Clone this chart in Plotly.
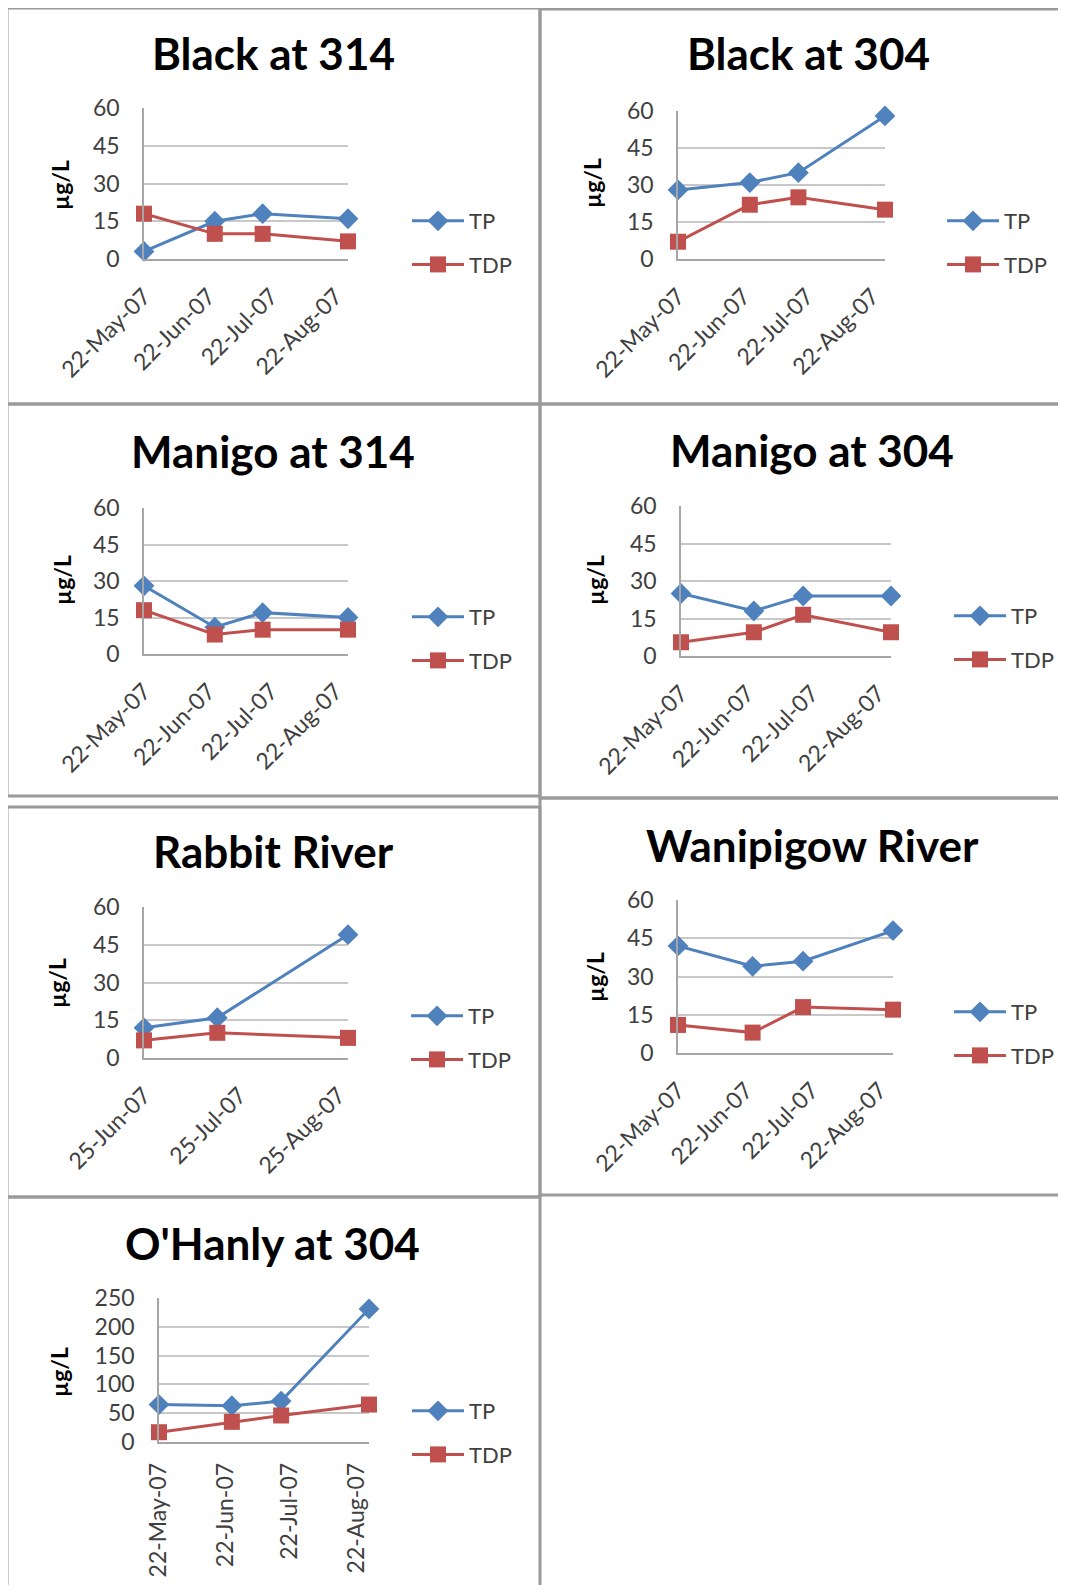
import plotly.graph_objects as go

# page body has an 8px margin; figure is sized so that it fits the 1066x1593 window
OFF = 8
W, H = 1066 - 2 * OFF, 1593 - 2 * OFF

# ---------------- data ----------------
titles = ["Black at 314", "Black at 304", "Manigo at 314", "Manigo at 304",
          "Rabbit River", "Wanipigow River", "O'Hanly at 304"]
dates_main = ["2007-05-22", "2007-06-25", "2007-07-18", "2007-08-28"]
dates_rabbit = ["2007-06-25", "2007-07-18", "2007-08-28"]

tp_black314 = [3, 15, 18, 16]
tdp_black314 = [18, 10, 10, 7]
tp_black304 = [28, 31, 35, 58]
tdp_black304 = [7, 22, 25, 20]
tp_manigo314 = [28, 11, 17, 15]
tdp_manigo314 = [18, 8, 10, 10]
tp_manigo304 = [25, 18, 24, 24]
tdp_manigo304 = [5.5, 9.5, 16.5, 9.5]
tp_rabbit = [12, 16, 49]
tdp_rabbit = [7, 10, 8]
tp_wanipigow = [42, 34, 36, 48]
tdp_wanipigow = [11, 8, 18, 17]
tp_ohanly = [65, 63, 71, 231]
tdp_ohanly = [17, 35, 46, 65]

yticks_small = [0, 15, 30, 45, 60]
yticks_ohanly = [0, 50, 100, 150, 200, 250]
series_names = ["TP", "TDP"]
y_label = "µg/L"

panels = [
    (dates_main, tp_black314, tdp_black314, yticks_small),
    (dates_main, tp_black304, tdp_black304, yticks_small),
    (dates_main, tp_manigo314, tdp_manigo314, yticks_small),
    (dates_main, tp_manigo304, tdp_manigo304, yticks_small),
    (dates_rabbit, tp_rabbit, tdp_rabbit, yticks_small),
    (dates_main, tp_wanipigow, tdp_wanipigow, yticks_small),
    (dates_main, tp_ohanly, tdp_ohanly, yticks_ohanly),
]

# ---------------- geometry (window pixels) ----------------
plot_boxes = [  # left, top, right, bottom
    (144, 108, 348, 259),
    (678, 111, 885, 259),
    (144, 508, 348, 654),
    (681, 506, 891, 656),
    (144, 907, 348, 1058),
    (678, 900, 893, 1053),
    (159, 1298, 369, 1442),
]
title_pos = [(273, 53), (808, 53), (273, 451), (812, 450), (273, 851), (812, 845), (272, 1243)]
ylab_pos = [(60, 185), (592, 183), (62, 580), (595, 580), (57, 983), (595, 977), (59, 1372)]
legend_pos = [(407, 222), (942, 222), (407, 618), (949, 617), (406, 1017), (949, 1013), (407, 1412)]
frames = [
    (7, 8, 540, 404), (540, 9, 1080, 404),
    (7, 404, 540, 796), (540, 404, 1080, 798),
    (7, 807, 540, 1197), (540, 798, 1080, 1195),
    (7, 1197, 540, 1610),
]

BLUE = "#4F81BD"
RED = "#C0504D"
FONT = "Lato"
TICKCOL = "#404040"


def fx(px):
    return (px - OFF) / W


def fy(py):
    return 1 - (py - OFF) / H


fig = go.Figure()
layout = dict(
    width=W, height=H, margin=dict(l=0, r=0, t=0, b=0, autoexpand=False),
    paper_bgcolor="white", plot_bgcolor="white",
    font=dict(family=FONT, color=TICKCOL),
    showlegend=True,
)
annotations = []
shapes = []

for i, (dates, tp, tdp, yt) in enumerate(panels):
    n = i + 1
    sfx = "" if n == 1 else str(n)
    leg = "legend" if n == 1 else f"legend{n}"
    for name, vals, col, sym, size in [(series_names[0], tp, BLUE, "diamond", 16),
                                       (series_names[1], tdp, RED, "square", 16)]:
        fig.add_trace(go.Scatter(
            x=dates, y=vals, name=name, mode="lines+markers",
            line=dict(color=col, width=3),
            marker=dict(symbol=sym, size=size, color=col),
            xaxis=f"x{sfx}", yaxis=f"y{sfx}", legend=leg,
            legendgroup=f"{name}{n}", cliponaxis=False,
        ))
    l, t, r, b = plot_boxes[i]
    vertical = (n == 7)
    layout[f"xaxis{sfx}"] = dict(
        domain=[fx(l), fx(r)], anchor=f"y{sfx}", type="date",
        range=[dates[0], dates[-1]], tick0=dates[0], dtick="M1",
        tickformat="%d-%b-%y", tickangle=-90 if vertical else -45,
        showgrid=False, showline=True, linecolor="#A6A6A6", linewidth=1.5,
        ticks="", tickfont=dict(family=FONT, size=23, color=TICKCOL),
        ticklabelstandoff=13 if not vertical else 10,
        zeroline=False, fixedrange=True, automargin=False,
    )
    layout[f"yaxis{sfx}"] = dict(
        domain=[fy(b), fy(t)], anchor=f"x{sfx}",
        range=[0, yt[-1]], tickvals=yt,
        showgrid=True, gridcolor="#C8C8C8", gridwidth=1.5,
        showline=True, linecolor="#A6A6A6", linewidth=1.5,
        ticks="", tickfont=dict(family=FONT, size=23, color=TICKCOL),
        ticklabelstandoff=18, zeroline=False, fixedrange=True, automargin=False,
    )
    lx, ly = legend_pos[i]
    layout[leg] = dict(
        x=fx(lx), y=fy(ly - 22), xanchor="left", yanchor="top",
        bgcolor="rgba(0,0,0,0)", borderwidth=0,
        font=dict(family=FONT, size=22, color=TICKCOL),
        itemwidth=52, tracegroupgap=12, traceorder="grouped",
        itemclick=False, itemdoubleclick=False,
    )
    tx, ty = title_pos[i]
    annotations.append(dict(
        text=titles[i], x=fx(tx), y=fy(ty), xref="paper", yref="paper",
        xanchor="center", yanchor="middle", showarrow=False,
        font=dict(family=FONT, size=44, color="black", weight="bold"),
    ))
    yx, yy = ylab_pos[i]
    annotations.append(dict(
        text=y_label, x=fx(yx), y=fy(yy), xref="paper", yref="paper",
        xanchor="center", yanchor="middle", showarrow=False, textangle=-90,
        font=dict(family=FONT, size=23, color="black", weight="bold"),
    ))

for (l, t, r, b) in frames:
    shapes.append(dict(type="rect", xref="paper", yref="paper",
                       x0=fx(l), x1=fx(r), y0=fy(b), y1=fy(t),
                       line=dict(color="#9A9A9A", width=3), layer="below"))

layout["annotations"] = annotations
layout["shapes"] = shapes
fig.update_layout(**layout)
fig.write_html("out.html")
